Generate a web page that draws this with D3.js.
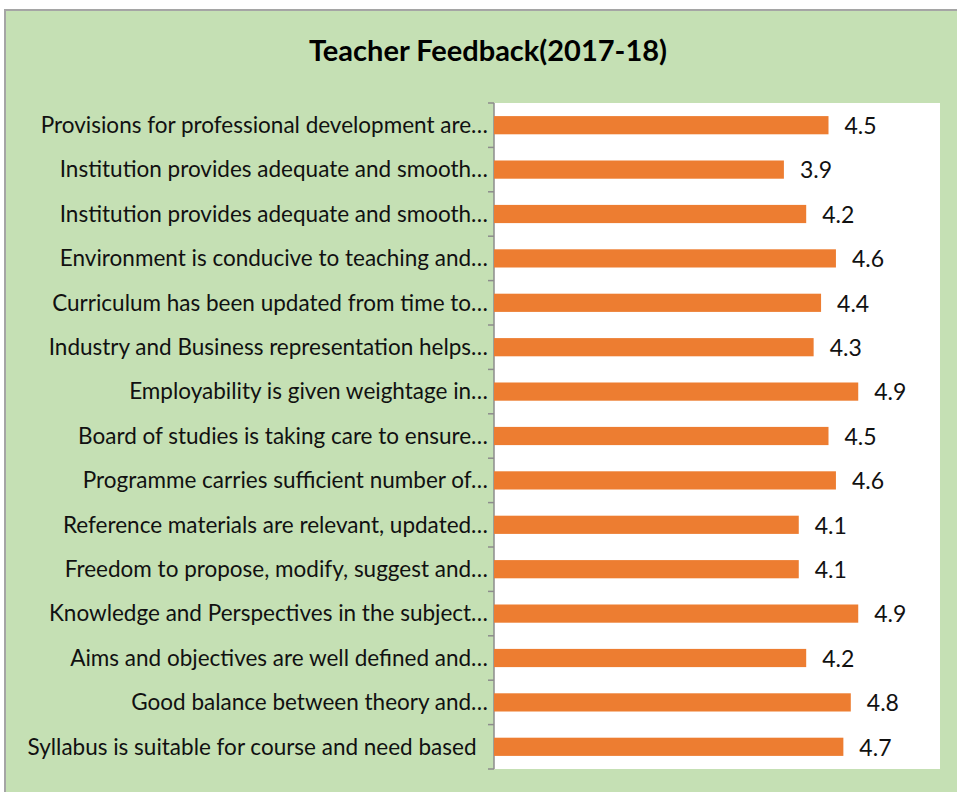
<!DOCTYPE html>
<html lang="en">
<head>
<meta charset="UTF-8">
<title>Teacher Feedback(2017-18)</title>
<script src="https://cdn.jsdelivr.net/npm/d3@7"></script>
<style>
html,body{margin:0;padding:0;background:#fff}
svg{display:block}
.cat{font-family:Lato,"Noto Sans",sans-serif;font-size:22.5px;fill:#111;white-space:pre}
.val{font-family:Lato,"Noto Sans",sans-serif;font-size:23px;fill:#111}
.title{font-family:Lato,"Noto Sans",sans-serif;font-size:29px;font-weight:bold;fill:#000}
</style>
</head>
<body>
<svg id="chart" width="957" height="792"></svg>
<script>
// categories top to bottom
const categories = [
  'Provisions for professional development are…',
  'Institution provides adequate and smooth…',
  'Institution provides adequate and smooth…',
  'Environment is conducive to teaching and…',
  'Curriculum has been updated from time to…',
  'Industry and Business representation helps…',
  'Employability is given weightage in…',
  'Board of studies is taking care to ensure…',
  'Programme carries sufficient number of…',
  'Reference materials are relevant, updated…',
  'Freedom to propose, modify, suggest and…',
  'Knowledge and Perspectives in the subject…',
  'Aims and objectives are well defined and…',
  'Good balance between theory and…',
  'Syllabus is suitable for course and need based  '
];
const scores = [4.5, 3.9, 4.2, 4.6, 4.4, 4.3, 4.9, 4.5, 4.6, 4.1, 4.1, 4.9, 4.2, 4.8, 4.7];
const xDomain = [0, 6];

const svg = d3.select('#chart');

// chart frame
svg.append('rect').attr('x', 5).attr('y', 10).attr('width', 960).attr('height', 790)
  .attr('fill', '#c5e0b4').attr('stroke', '#a5a5a5').attr('stroke-width', 2);

svg.append('text').attr('class', 'title').attr('x', 488).attr('y', 61)
  .attr('text-anchor', 'middle').text('Teacher Feedback(2017-18)');

const plot = { left: 494, right: 940, top: 103, bottom: 769 };

// plot area
svg.append('rect').attr('x', plot.left).attr('y', plot.top)
  .attr('width', plot.right - plot.left).attr('height', plot.bottom - plot.top)
  .attr('fill', '#fff');

const x = d3.scaleLinear().domain(xDomain).range([plot.left, plot.right]);
const y = d3.scaleBand().domain(d3.range(categories.length)).range([plot.top, plot.bottom]).padding(0);
const barH = y.step() * 0.41;

// category axis with ticks at band boundaries
const g = svg.append('g');
g.append('line').attr('x1', plot.left).attr('x2', plot.left)
  .attr('y1', plot.top).attr('y2', plot.bottom).attr('stroke', '#8c8c8c').attr('stroke-width', 1.5);
const bounds = d3.range(categories.length + 1).map(i => i < categories.length ? y(i) : plot.bottom);
g.selectAll('line.tick').data(bounds).join('line').attr('class', 'tick')
  .attr('x1', plot.left - 6).attr('x2', plot.left)
  .attr('y1', d => d).attr('y2', d => d)
  .attr('stroke', '#8c8c8c').attr('stroke-width', 1.5);

g.selectAll('text.cat').data(categories).join('text').attr('class', 'cat')
  .attr('x', plot.left - 6).attr('y', (d, i) => y(i) + y.bandwidth() / 2)
  .attr('dy', '0.35em').attr('text-anchor', 'end').text(d => d);

// bars
svg.append('g').selectAll('rect').data(scores).join('rect')
  .attr('x', x(0)).attr('y', (d, i) => y(i) + (y.bandwidth() - barH) / 2)
  .attr('width', d => x(d) - x(0)).attr('height', barH)
  .attr('fill', '#ed7d31');

svg.append('g').selectAll('text').data(scores).join('text').attr('class', 'val')
  .attr('x', d => x(d) + 16).attr('y', (d, i) => y(i) + y.bandwidth() / 2)
  .attr('dy', '0.38em').text(d => d.toFixed(1));
</script>
</body>
</html>
